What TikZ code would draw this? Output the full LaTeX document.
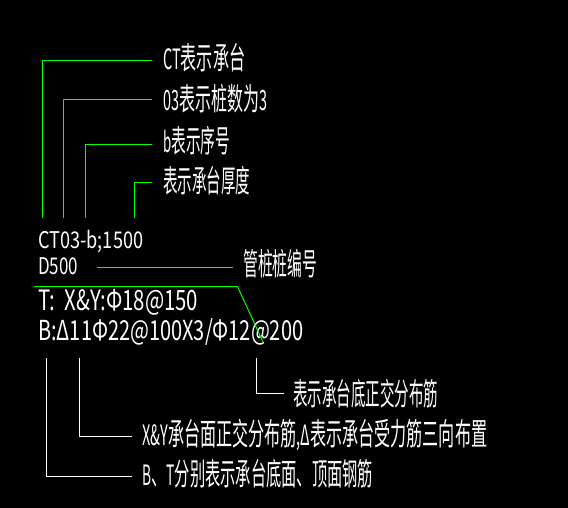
\documentclass[tikz,border=0pt]{standalone}
\usepackage{graphicx}
\usepackage{fontspec}
\newfontfamily\cjk{Noto Sans CJK SC}
\newcommand\fitw[3]{\resizebox{#1pt}{\height}{\fontsize{#2pt}{#2pt}\selectfont #3}}
\newcommand\lat[1]{{\fontsize{28pt}{28pt}\selectfont #1}}
\tikzset{
  lbl/.style={text=white, font=\cjk, inner sep=0pt, anchor=base west},
  gl/.style={draw={rgb,255:red,0;green,255;blue,0}, line width=1pt},
  wl/.style={draw=white, line width=1pt}
}
\begin{document}
\begin{tikzpicture}[x=1pt,y=-1pt]
\fill[black] (0,0) rectangle (568,508);
\useasboundingbox (0,0) rectangle (568,508);
% texts
\node[lbl] (t1) at (163,70) {\fitw{82}{31}{\lat{CT}表示承台}};
\node[lbl] (t2) at (163,111) {\fitw{104}{31}{\lat{03}表示桩数为\lat{3}}};
\node[lbl] (t3) at (163,153) {\fitw{67}{31}{\lat{b}表示序号}};
\node[lbl] (t4) at (163,193) {\fitw{87}{31}{表示承台厚度}};
\node[lbl] (t5) at (38,248) {\fitw{105}{23}{CT03-b;1500}};
\node[lbl] (t6) at (38,275) {\fitw{40}{23}{D500}};
\node[lbl] (t7) at (243,275) {\fitw{74}{31}{管桩桩编号}};
\node[lbl] (t8) at (38,310) {\fitw{160}{28}{T:~~X\&Y:Φ18@150}};
\node[lbl] (t9) at (38,340) {\fitw{265}{27.5}{B:Δ11Φ22@100X3/Φ12@200}};
\node[lbl] (t10) at (293,405) {\fitw{145}{31}{表示承台底正交分布筋}};
\node[lbl] (t11) at (142,445) {\fitw{345}{31}{\lat{X\&Y}承台面正交分布筋\lat{,Δ}表示承台受力筋三向布置}};
\node[lbl] (t12) at (142,485) {\fitw{231}{31}{\lat{B}、\lat{T}分别表示承台底面、顶面钢筋}};
% connector coordinates
\coordinate (a1) at (42.5,218);  \coordinate (b1) at (152,60.5);
\coordinate (a2) at (63.5,218);  \coordinate (b2) at (152,99.5);
\coordinate (a3) at (85.5,218);  \coordinate (b3) at (152,144.5);
\coordinate (a4) at (134.5,218); \coordinate (b4) at (152,182.5);
\coordinate (a5) at (97,267.5);  \coordinate (b5) at (233,267.5);
\coordinate (a6) at (34,286.5);  \coordinate (m6) at (237.5,286.5); \coordinate (b6) at (263,342);
\coordinate (w1) at (46.5,358);  \coordinate (v1) at (132,476.5);
\coordinate (w2) at (79.5,358);  \coordinate (v2) at (132,436.5);
\coordinate (w3) at (256.5,358); \coordinate (v3) at (284,393.5);
% green leaders
\draw[gl] (a1) |- (b1);
\draw[gl] (a2) |- (b2);
\draw[gl] (a3) |- (b3);
\draw[gl] (a4) |- (b4);
\draw[gl] (a5) -- (b5);
\draw[gl] (a6) -- (m6) -- (b6);
% white leaders
\draw[wl] (w1) |- (v1);
\draw[wl] (w2) |- (v2);
\draw[wl] (w3) |- (v3);
\end{tikzpicture}
\end{document}
